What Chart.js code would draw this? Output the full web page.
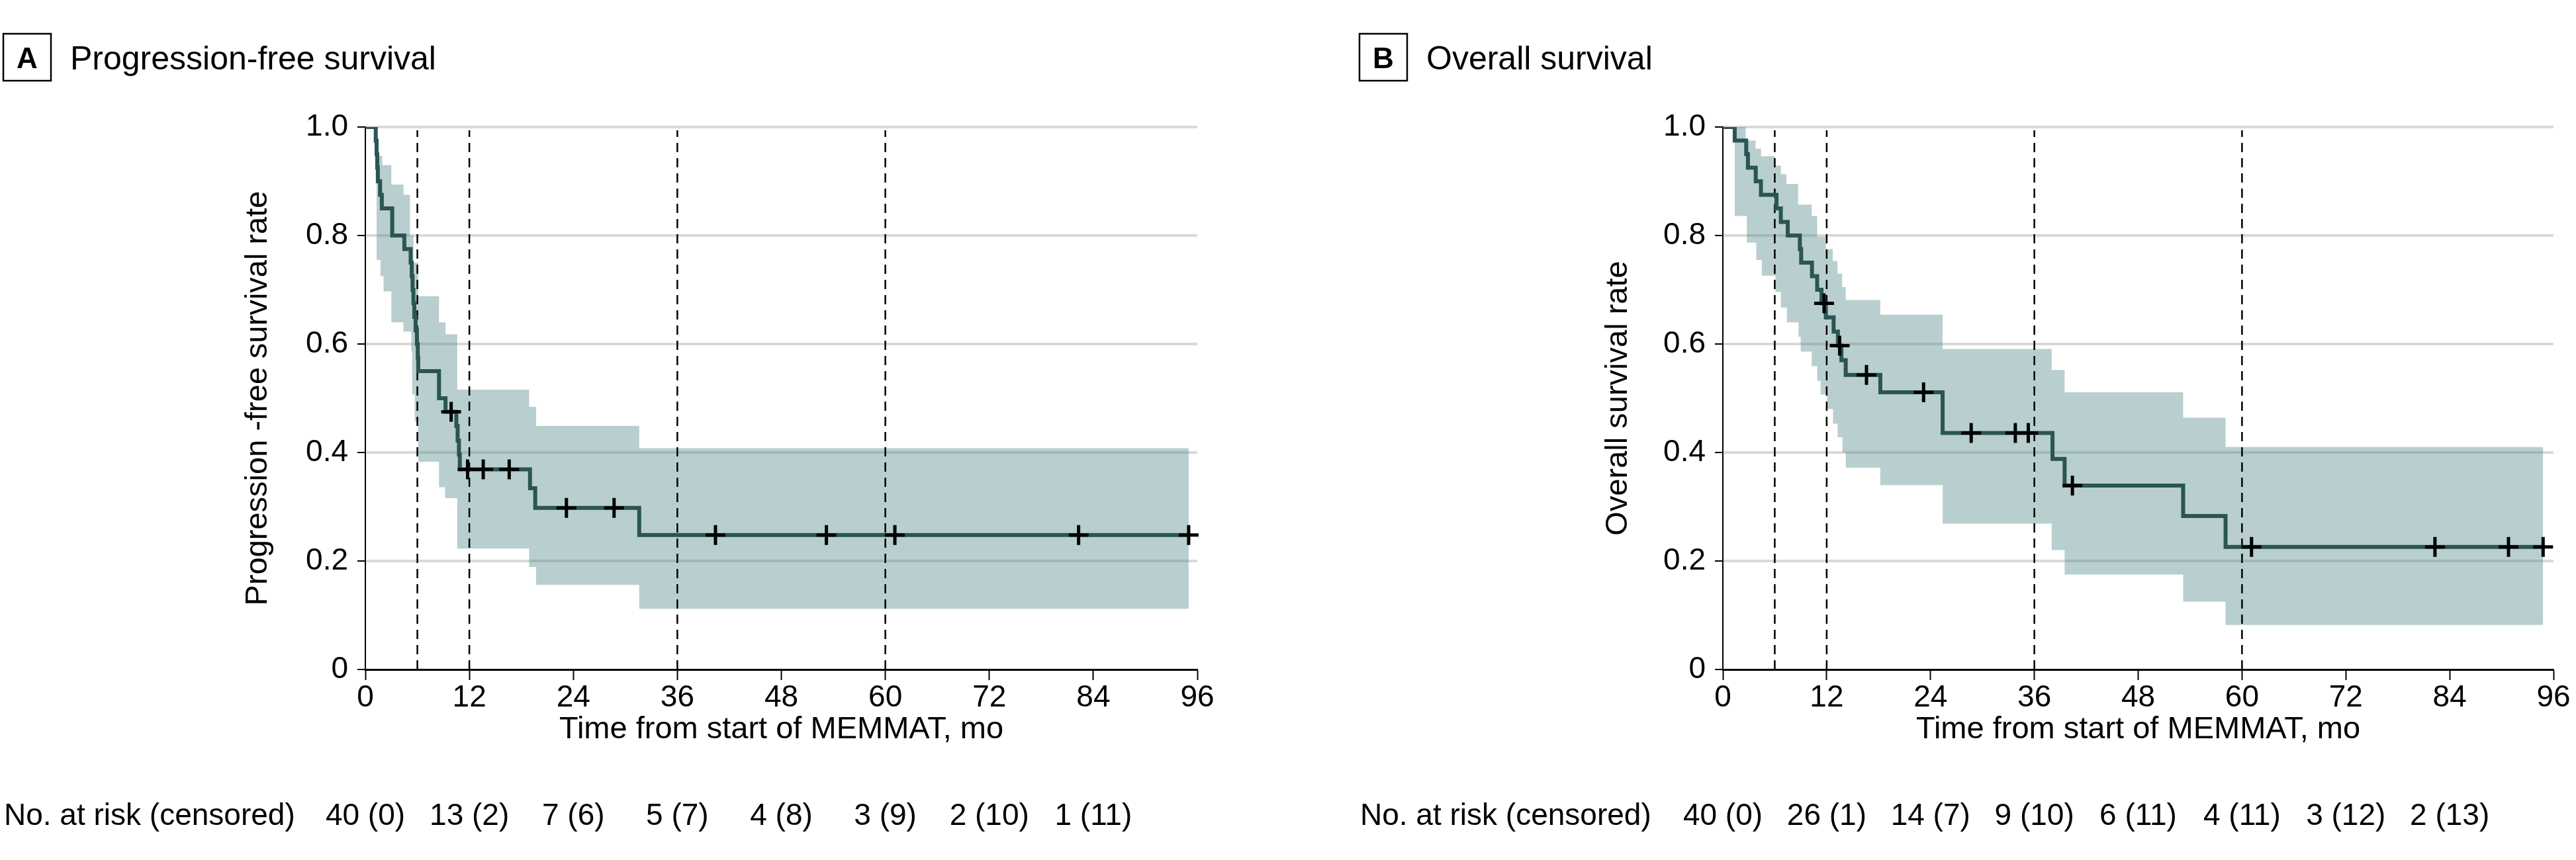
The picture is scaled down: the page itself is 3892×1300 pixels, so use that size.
<!DOCTYPE html>
<html>
<head>
<meta charset="utf-8">
<script src="https://cdn.jsdelivr.net/npm/chart.js@4/dist/chart.umd.min.js"></script>
<style>
    html, body { margin: 0; padding: 0; background: #fff; }
    #wrap { position: relative; width: 3892px; height: 1300px; }
    .panel { position: absolute; top: 0; width: 1946px; height: 1300px; }
</style>
</head>
<body>
<div id="wrap">
    <div class="panel" style="left:0"><canvas id="pfsChart" width="1946" height="1300"></canvas></div>
    <div class="panel" style="left:1946px"><canvas id="osChart" width="1946" height="1300"></canvas></div>
</div>
<script>
// 刻度与参考线（月）
const monthTicks = [0, 12, 24, 36, 48, 60, 72, 84, 96];
const refMonths = [6, 12, 36, 60];
const riskMonths = [0, 12, 24, 36, 48, 60, 72, 84];

// A: 无进展生存
const pfsTime = [0, 1.2, 1.3, 1.37, 1.44, 1.7, 1.9, 3.1, 4.5, 5.23, 5.35, 5.45, 5.55, 5.65, 5.8, 5.95, 6.05, 6.1, 8.5, 9.25, 10.5, 10.65, 10.8, 10.9, 19.0, 19.6, 31.6, 95];
const pfsSurv = [1, 0.975, 0.95, 0.925, 0.9, 0.875, 0.85, 0.8, 0.775, 0.75, 0.725, 0.7, 0.675, 0.65, 0.625, 0.6, 0.575, 0.55, 0.5, 0.475, 0.449, 0.422, 0.396, 0.369, 0.334, 0.298, 0.248, 0.248];
const pfsUpperTime = [0, 1.3, 1.95, 3.0, 4.4, 5.15, 5.55, 6.1, 8.5, 9.25, 10.6, 18.9, 19.7, 31.6, 95];
const pfsUpper = [1, 0.947, 0.93, 0.894, 0.875, 0.8, 0.75, 0.688, 0.64, 0.618, 0.516, 0.484, 0.449, 0.408, 0.408];
const pfsLowerTime = [0, 1.3, 1.75, 2.1, 3.0, 4.4, 5.3, 5.4, 5.7, 6.1, 8.5, 9.2, 10.6, 18.9, 19.7, 31.6, 95];
const pfsLower = [1, 0.755, 0.725, 0.697, 0.64, 0.623, 0.586, 0.507, 0.457, 0.383, 0.336, 0.316, 0.223, 0.189, 0.156, 0.112, 0.112];
const pfsCensorTime = [9.9, 11.8, 13.6, 16.6, 23.2, 28.7, 40.4, 53.2, 61.1, 82.3, 95.0];
const pfsCensorSurv = [0.475, 0.369, 0.369, 0.369, 0.298, 0.298, 0.248, 0.248, 0.248, 0.248, 0.248];
const pfsRisk = ['40 (0)', '13 (2)', '7 (6)', '5 (7)', '4 (8)', '3 (9)', '2 (10)', '1 (11)'];

// B: 总生存
const osTime = [0, 1.37, 2.7, 2.9, 3.8, 4.4, 6.2, 6.7, 7.5, 8.9, 9.05, 10.3, 10.9, 11.4, 11.9, 12.8, 13.3, 13.7, 14.2, 18.2, 25.4, 38.1, 39.5, 53.2, 58.1, 94.8];
const osSurv = [1, 0.975, 0.95, 0.925, 0.9, 0.875, 0.85, 0.825, 0.8, 0.775, 0.75, 0.725, 0.7, 0.675, 0.649, 0.623, 0.597, 0.57, 0.543, 0.511, 0.436, 0.388, 0.339, 0.283, 0.226, 0.226];
const osUpperTime = [0, 2.64, 3.79, 4.42, 6.0, 6.71, 7.35, 8.7, 10.27, 10.9, 11.9, 12.7, 13.25, 13.78, 14.2, 18.2, 25.4, 38.0, 39.5, 53.2, 58.1, 94.8];
const osUpper = [1, 0.975, 0.96, 0.946, 0.929, 0.913, 0.895, 0.857, 0.836, 0.798, 0.775, 0.753, 0.73, 0.705, 0.681, 0.654, 0.591, 0.552, 0.511, 0.464, 0.41, 0.41];
const osLowerTime = [0, 1.37, 2.77, 3.86, 4.5, 6.08, 6.71, 7.4, 8.75, 9.0, 10.27, 10.9, 11.3, 12.05, 12.74, 13.27, 13.83, 14.21, 18.2, 25.4, 38.0, 39.5, 53.2, 58.1, 94.8];
const osLower = [1, 0.836, 0.787, 0.755, 0.726, 0.696, 0.667, 0.64, 0.613, 0.586, 0.559, 0.532, 0.507, 0.48, 0.453, 0.428, 0.4, 0.372, 0.34, 0.269, 0.22, 0.175, 0.125, 0.082, 0.082];
const osCensorTime = [11.7, 13.5, 16.6, 23.2, 28.7, 33.8, 35.3, 40.4, 61.1, 82.3, 90.8, 94.8];
const osCensorSurv = [0.675, 0.597, 0.543, 0.511, 0.436, 0.436, 0.436, 0.339, 0.226, 0.226, 0.226, 0.226];
const osRisk = ['40 (0)', '26 (1)', '14 (7)', '9 (10)', '6 (11)', '4 (11)', '3 (12)', '2 (13)'];

const FONT = '"Liberation Sans", Arial, sans-serif';
const CURVE_COLOR = '#2a5554';
const BAND_COLOR = 'rgba(80, 132, 135, 0.4)';

Chart.defaults.font.family = FONT;
Chart.defaults.color = '#000';

const toPts = (xs, ys) => xs.map((x, i) => ({ x, y: ys[i] }));

// 面板标题、字母方框和风险人数
const panelDecor = {
    id: 'panelDecor',
    afterDraw(chart, args, opts) {
        const ctx = chart.ctx;
        const xScale = chart.scales.x;
        ctx.save();
        ctx.fillStyle = '#000';
        ctx.strokeStyle = '#000';
        ctx.lineWidth = 2.5;
        ctx.strokeRect(opts.left, 51, 72, 71);

        ctx.font = 'bold 44px ' + FONT;
        ctx.textAlign = 'center';
        ctx.textBaseline = 'alphabetic';
        ctx.fillText(opts.letter, opts.left + 36, 103);

        ctx.font = '50px ' + FONT;
        ctx.textAlign = 'left';
        ctx.fillText(opts.title, opts.left + 101, 105);

        ctx.font = '46px ' + FONT;
        ctx.fillText('No. at risk (censored)', opts.left + 1, 1247);
        ctx.textAlign = 'center';
        opts.risk.forEach((label, i) => {
            ctx.fillText(label, xScale.getPixelForValue(riskMonths[i]), 1247);
        });
        ctx.restore();
    }
};

function makeSurvivalChart(id, cfg) {
    const datasets = [
        {
            data: toPts(cfg.censorTime, cfg.censorSurv),
            showLine: false,
            pointStyle: 'cross',
            pointRadius: 15,
            pointBorderWidth: 5,
            pointBorderColor: '#000',
            clip: false,
            order: 1
        },
        {
            data: toPts(cfg.time, cfg.surv),
            stepped: 'before',
            borderColor: CURVE_COLOR,
            borderWidth: 6,
            pointRadius: 0,
            fill: false,
            order: 2
        }
    ];
    refMonths.forEach(m => {
        datasets.push({
            data: [{ x: m, y: 0 }, { x: m, y: 0.994 }],
            borderColor: '#000',
            borderWidth: 2.5,
            borderDash: [14, 9],
            pointRadius: 0,
            fill: false,
            order: 3
        });
    });
    datasets.push({
        data: toPts(cfg.upperTime, cfg.upper),
        stepped: 'before',
        borderColor: 'rgba(0,0,0,0)',
        borderWidth: 0,
        pointRadius: 0,
        backgroundColor: BAND_COLOR,
        fill: '+1',
        order: 5
    });
    datasets.push({
        data: toPts(cfg.lowerTime, cfg.lower),
        stepped: 'before',
        borderColor: 'rgba(0,0,0,0)',
        borderWidth: 0,
        pointRadius: 0,
        fill: false,
        order: 6
    });

    return new Chart(document.getElementById(id), {
        type: 'line',
        data: { datasets },
        plugins: [panelDecor],
        options: {
            responsive: false,
            animation: false,
            events: [],
            layout: { padding: { left: 0, top: 192, right: cfg.padRight, bottom: 0 } },
            plugins: {
                legend: { display: false },
                tooltip: { enabled: false },
                panelDecor: { left: cfg.boxLeft, letter: cfg.letter, title: cfg.title, risk: cfg.risk }
            },
            scales: {
                x: {
                    type: 'linear',
                    min: 0,
                    max: 96,
                    afterBuildTicks: scale => { scale.ticks = monthTicks.map(v => ({ value: v })); },
                    afterFit: scale => { scale.height = 288; },
                    ticks: { font: { size: 46 }, padding: 0, maxRotation: 0, autoSkip: false, callback: v => v },
                    grid: { drawOnChartArea: false, drawTicks: true, tickLength: 16, tickColor: '#000', tickWidth: 2 },
                    border: { display: true, color: '#000', width: 3 },
                    title: {
                        display: true,
                        text: 'Time from start of MEMMAT, mo',
                        font: { size: 47 },
                        padding: { top: 0, bottom: 169 }
                    }
                },
                y: {
                    min: 0,
                    max: 1,
                    afterFit: scale => { scale.width = cfg.yWidth; },
                    ticks: {
                        stepSize: 0.2,
                        font: { size: 46 },
                        padding: 14,
                        callback: v => (v === 0 ? '0' : v.toFixed(1))
                    },
                    grid: {
                        color: c => (c.tick && c.tick.value > 0 ? '#d9d9d9' : 'rgba(0,0,0,0)'),
                        lineWidth: 4,
                        drawTicks: true,
                        tickLength: 12,
                        tickColor: '#000',
                        tickWidth: 2
                    },
                    border: { display: true, color: '#000', width: 2 },
                    title: {
                        display: true,
                        text: cfg.yTitle,
                        font: { size: 47 },
                        padding: { top: cfg.yTitlePad, bottom: 0 }
                    }
                }
            }
        }
    });
}

makeSurvivalChart('pfsChart', {
    letter: 'A', title: 'Progression-free survival', yTitle: 'Progression -free survival rate',
    boxLeft: 5, yWidth: 552, padRight: 137, yTitlePad: 362,
    time: pfsTime, surv: pfsSurv,
    upperTime: pfsUpperTime, upper: pfsUpper, lowerTime: pfsLowerTime, lower: pfsLower,
    censorTime: pfsCensorTime, censorSurv: pfsCensorSurv, risk: pfsRisk
});

makeSurvivalChart('osChart', {
    letter: 'B', title: 'Overall survival', yTitle: 'Overall survival rate',
    boxLeft: 108, yWidth: 657, padRight: 34, yTitlePad: 471,
    time: osTime, surv: osSurv,
    upperTime: osUpperTime, upper: osUpper, lowerTime: osLowerTime, lower: osLower,
    censorTime: osCensorTime, censorSurv: osCensorSurv, risk: osRisk
});
</script>
</body>
</html>
